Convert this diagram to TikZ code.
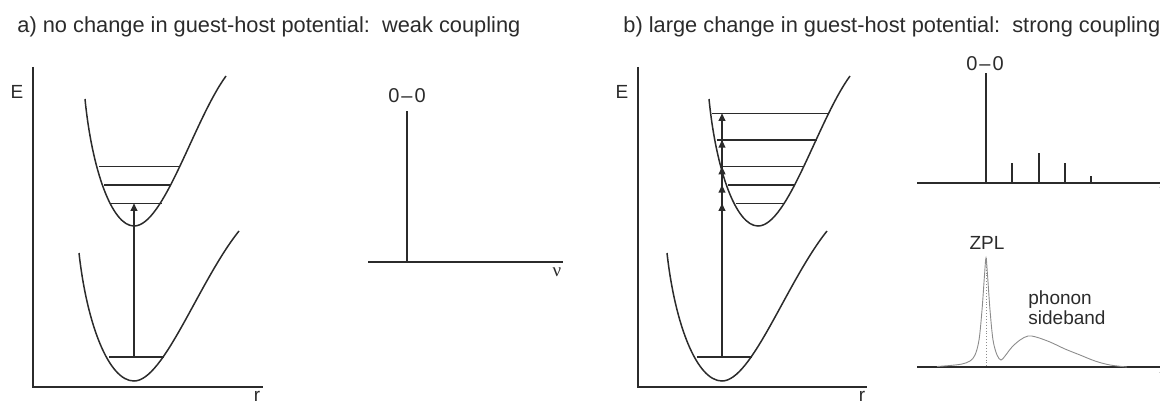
\documentclass[tikz,border=0pt]{standalone}
\usepackage{fontspec}
\setmainfont{Liberation Sans}
\newfontfamily\nufont{Liberation Serif}
\usetikzlibrary{arrows.meta,positioning}
\definecolor{ink}{HTML}{2B2B2B}
\definecolor{bandgray}{HTML}{8C8C8C}
\tikzset{
  axisline/.style={draw=ink, line width=1pt},
  wellline/.style={draw=ink, line width=0.75pt},
  levelline/.style={draw=ink, line width=0.7pt},
  stickline/.style={draw=ink, line width=1pt},
  uparr/.style={-{Triangle[length=3.8pt, width=3.4pt]}, line width=0.7pt, color=ink},
  bandline/.style={draw=bandgray, line width=0.45pt},
  lbl/.style={inner sep=0pt, text=ink, font=\fontsize{9.5}{10}\selectfont},
  peaklbl/.style={inner sep=0pt, text=ink, font=\fontsize{10}{11}\selectfont},
  headlbl/.style={inner sep=0pt, text=ink, font=\fontsize{10.9}{13}\selectfont},
  nulbl/.style={inner sep=0pt, text=ink, font=\fontsize{9.5}{10}\selectfont\nufont},
  upperwell/.pic={\draw[wellline] (-49,-127) .. controls (-42,-56) and (-22,0) .. (0,0)
                   .. controls (30,0) and (60,-106) .. (92,-150);},
  lowerwell/.pic={\draw[wellline] (-55,-128) .. controls (-47,-56) and (-25,0) .. (0,0)
                   .. controls (30,0) and (65,-100) .. (105,-150);}}

\begin{document}
\begin{tikzpicture}[x=0.5pt, y=-0.5pt]
  \useasboundingbox (0,0) rectangle (1160,401);
  % titles
  \node[headlbl, anchor=base west] (titleA) at (17,33)
    {a) no change in guest-host potential:\ \ weak coupling};
  \node[headlbl, anchor=base west] (titleB) at (623,33)
    {b) large change in guest-host potential:\ \ strong coupling};

  % a) potential wells
  \draw[axisline] (33,67) -- (33,387) -- (263,387);
  \node[lbl] (aEn) at (17,92) {E};
  \node[lbl, anchor=north] (aR) at (257,391) {r};
  \pic at (134,226) {upperwell};
  \pic at (134,381) {lowerwell};
  \draw[levelline] (99,166.7) -- (180,166.7);
  \draw[levelline] (104,185) -- (171,185);
  \draw[levelline] (110,203.3) -- (162,203.3);
  \draw[levelline] (109,357) -- (164,357);
  \coordinate (aG) at (134,357);
  \coordinate (aX) at (134,203.3);
  \draw[uparr] (aG) -- (aX);

  % a) spectrum
  \draw[axisline] (368,262) -- (563,262);
  \draw[stickline] (407,262) -- (407,111);
  \node[peaklbl] (aZero) at (407,96) {0\kern1pt–\kern1pt0};
  \node[nulbl] (aNu) at (557,272) {ν};

  % b) potential wells
  \draw[axisline] (638,67) -- (638,387) -- (867,387);
  \node[lbl] (bEn) at (622,92) {E};
  \node[lbl, anchor=north] (bR) at (862,391) {r};
  \pic at (758,226) {upperwell};
  \pic at (722,381) {lowerwell};
  \draw[levelline] (712,113.3) -- (828,113.3);
  \draw[levelline] (717,140) -- (817,140);
  \draw[levelline] (722,166.7) -- (804,166.7);
  \draw[levelline] (728,185) -- (794,185);
  \draw[levelline] (736,203.3) -- (784,203.3);
  \draw[levelline] (697,357) -- (752,357);
  \coordinate (bG) at (722,357);
  \foreach \lv/\y in {1/203.3, 2/185, 3/166.7, 4/140, 5/113.3}
    \coordinate (bX\lv) at (722,\y);
  \foreach \lv in {1,...,5}
    \draw[uparr] (bG) -- (bX\lv);

  % b) line spectrum
  \draw[axisline] (917,183) -- (1160,183);
  \draw[stickline] (986,183) -- (986,73);
  \foreach \x/\h in {1012/163, 1039/153, 1065/163, 1091/176}
    \draw[stickline] (\x,183) -- (\x,\h);
  \node[peaklbl] (bZero) at (985,64) {0\kern1pt–\kern1pt0};
  \node[nulbl] (bNuTop) at (1164,192) {ν};

  % b) band spectrum
  \draw[axisline] (917,367) -- (1160,367);
  \draw[bandline] plot[smooth, tension=0.55] coordinates {
    (937,366.5) (950,365.5) (962,364) (970,361) (975,355) (979,340)
    (982,310) (984.5,275) (986,258) (987.5,275) (990,310) (993,340)
    (997,355) (1001,360) (1005,356) (1012,347) (1020,340) (1028,336)
    (1036,337) (1050,342) (1065,349) (1080,355) (1095,361) (1110,365)
    (1127,367)};
  \draw[bandline, densely dotted] (986,258) -- (986,367);
  \node[lbl] (zpl) at (987,243) {ZPL};
  \node[lbl, anchor=west, align=left] (psb) at (1028,308) {phonon\\sideband};
  \node[nulbl] (bNuBot) at (1164,377) {ν};
\end{tikzpicture}
\end{document}
